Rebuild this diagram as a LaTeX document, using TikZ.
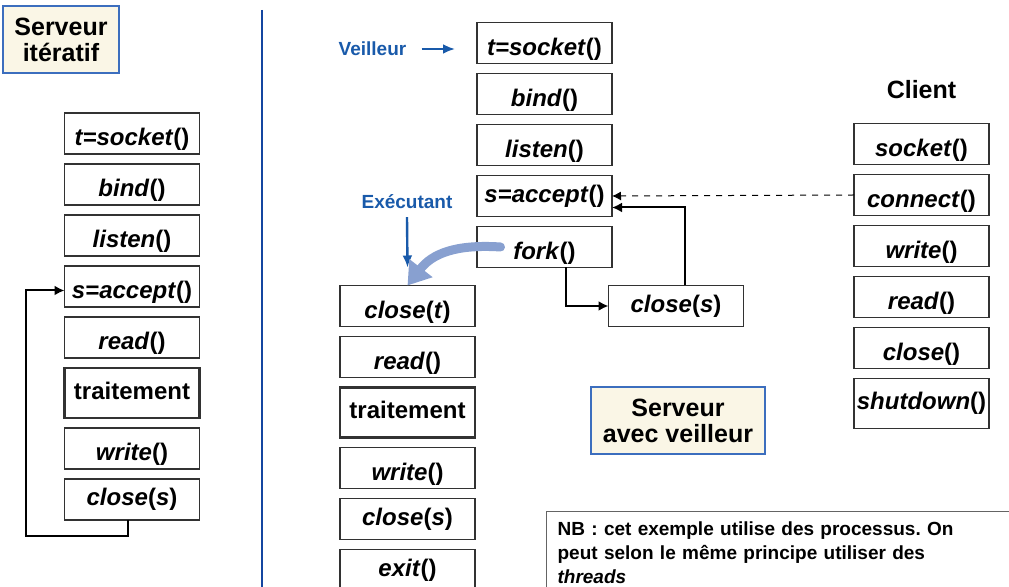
\documentclass[tikz,border=0pt]{standalone}
\usepackage{fontspec}
\setmainfont{Liberation Sans}
\usetikzlibrary{arrows.meta,positioning}
\definecolor{veilblue} {RGB}{25,90,170}
\definecolor{sepblue}  {RGB}{20,70,160}
\definecolor{forkblue} {RGB}{136,160,208}
\definecolor{titlefill}{RGB}{250,246,230}
\definecolor{titledraw}{RGB}{60,110,190}
\definecolor{boxgray}  {RGB}{50,50,50}
\definecolor{nbgray}   {RGB}{100,100,100}

% system call: italic name, upright parentheses
\newcommand{\call}[2]{\textit{#1}(\textit{#2})}

\begin{document}
\frenchspacing
\begin{tikzpicture}[
  x=0.5pt, y=-0.5pt,
  >={Latex[length=5pt,width=5pt]},
  node distance=5pt,
  every node/.style={align=center, font=\bfseries},
  callbox/.style={rectangle, draw=boxgray, line width=0.75pt, outer sep=0pt,
    minimum width=67.5pt, minimum height=20.5pt, inner sep=0pt,
    text height=14pt, text depth=1.7pt,
    font=\bfseries\fontsize{12}{14}\selectfont},
  midbox/.style={callbox, text height=8.8pt, text depth=2.5pt},
  workbox/.style={midbox, minimum height=25pt, line width=1.3pt},
  titlebox/.style={rectangle, draw=titledraw, fill=titlefill, line width=0.7pt,
    inner sep=0pt, font=\bfseries\fontsize{12.5}{13}\selectfont},
  bluelabel/.style={text=veilblue, inner sep=0pt,
    font=\bfseries\fontsize{9.5}{11}\selectfont},
  arr/.style={->, line width=1pt, draw=black},
  blarr/.style={-{Latex[length=6pt,width=5pt]}, line width=1.2pt, draw=veilblue},
  dasharr/.style={-{Latex[length=4.5pt,width=4.5pt]}, dashed, line width=0.5pt},
  forkarr/.style={-{Triangle[width=14pt,length=11pt]}, line width=4.5pt,
    line cap=round, draw=forkblue},
]
\useasboundingbox (0,0) rectangle (1009,587);
\clip (0,0) rectangle (1009,587);

% Iterative server
\node[titlebox, minimum width=58pt, minimum height=33.5pt] (iter) at (61,39.5)
  {Serveur\\itératif};
\node[callbox] (lsock) at (132,133.5) {\call{t=socket}{}};
\node[callbox, below=of lsock]  (lbind)  {\call{bind}{}};
\node[callbox, below=of lbind]  (llist)  {\call{listen}{}};
\node[callbox, below=of llist]  (lacc)   {\call{s=accept}{}};
\node[callbox, below=of lacc]   (lread)  {\call{read}{}};
\node[workbox, below=of lread]  (ltrait) {traitement};
\node[callbox, below=of ltrait] (lwrite) {\call{write}{}};
\node[midbox, below=of lwrite]  (lclose) {\call{close}{s}};

% loop back to accept
\coordinate (lret) at (26,536);
\draw[arr] ([xshift=-2pt]lclose.south) |- (lret) |- ([yshift=-2pt]lacc.west);

% separator
\draw[sepblue, line width=1.2pt] (262,10) -- (262,600);

% Watcher
\node[callbox] (wsock) at (544.5,43) {\call{t=socket}{}};
\node[callbox, below=of wsock]  (wbind) {\call{bind}{}};
\node[callbox, below=of wbind]  (wlist) {\call{listen}{}};
\node[midbox, below=of wlist]   (wacc)  {\call{s=accept}{}};
\node[callbox, below=of wacc]   (wfork) {\call{fork}{}};

\node[bluelabel] (veil) at (372.5,49) {Veilleur};
\coordinate (veilend) at (455,49);
\draw[blarr] ([xshift=7.5pt]veil.east) -- (veilend);

% Worker
\node[callbox] (eclose) at (407.5,306) {\call{close}{t}};
\node[callbox, below=of eclose] (eread)  {\call{read}{}};
\node[workbox, below=of eread]  (etrait) {traitement};
\node[callbox, below=of etrait] (ewrite) {\call{write}{}};
\node[midbox, below=of ewrite]  (ecloss) {\call{close}{s}};
\node[midbox, below=of ecloss]  (eexit)  {\call{exit}{}};

\node[bluelabel] (exec) at (407,201.7) {Exécutant};
\draw[blarr] ([yshift=-4pt]exec.south) -- ([yshift=9pt]eclose.north);

% watcher closes s after fork
\node[midbox] (cclose) at (676,306) {\call{close}{s}};

% Client
\node[font=\bfseries\fontsize{12.5}{14}\selectfont] (client) at (921.5,90) {Client};
\node[callbox] (csock) at (921.5,144) {\call{socket}{}};
\node[callbox, below=of csock]  (cconn)  {\call{connect}{}};
\node[callbox, below=of cconn]  (cwrite) {\call{write}{}};
\node[callbox, below=of cwrite] (cread)  {\call{read}{}};
\node[callbox, below=of cread]  (cend)   {\call{close}{}};
\node[midbox, below=of cend, minimum height=25pt] (cshut) {\call{shutdown}{}};

% connectors
\draw[dasharr] (cconn.west) -- (wacc.east);
\draw[arr] ([xshift=4.5pt]cclose.north) |- ([yshift=-5.75pt]wacc.east);
\draw[arr] ([xshift=10.75pt]wfork.south) |- (cclose.west);
\draw[forkarr] ([xshift=-22pt]wfork.center)
  .. controls (455,244) and (432,254) .. (eclose.north);

\node[titlebox, minimum width=87pt, minimum height=33.5pt] (veilbox) at (678,420.5)
  {Serveur\\avec veilleur};

% note
\node[draw=nbgray, line width=0.6pt, anchor=north west, text width=240pt,
      align=left, inner xsep=5.5pt, inner ysep=5pt,
      font=\bfseries\fontsize{9.5}{12}\selectfont] (nb) at (546,511)
  {NB : cet exemple utilise des processus. On\\
   peut selon le même principe utiliser des\\
   \textit{threads}};
\end{tikzpicture}
\end{document}
